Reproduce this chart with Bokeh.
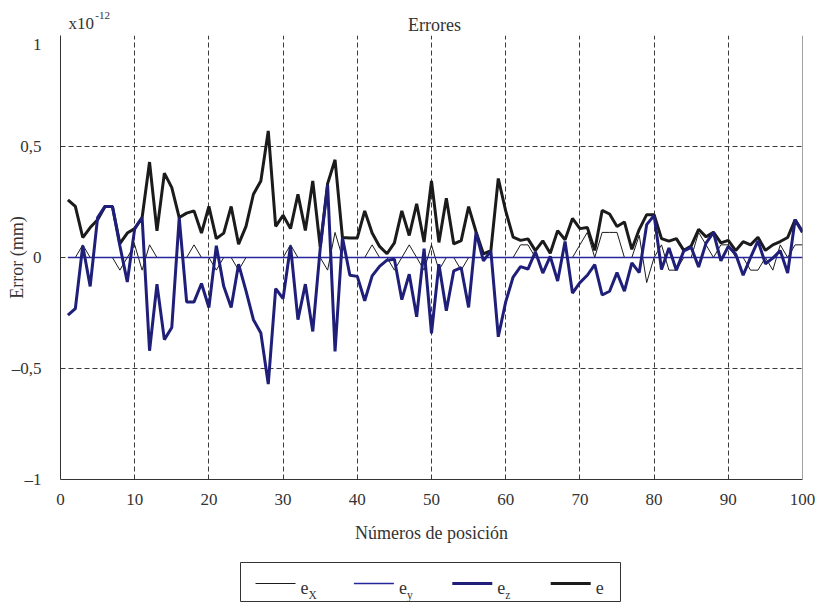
import numpy as np
from bokeh.plotting import figure
from bokeh.models import FixedTicker, Span, Range1d
from bokeh.layouts import column
from bokeh.embed import file_html
from bokeh.resources import INLINE
from bokeh.core.properties import value

# ---------------- data ----------------
positions = list(range(1, 101))

e_x = [0, 0, 0.057, 0, 0, 0, 0, -0.057, 0, 0.057,
       -0.057, 0.057, 0, 0, 0, 0, 0, 0.057, 0, 0,
       -0.057, 0, 0, -0.057, 0, 0, 0, 0, 0, 0,
       0.057, 0, 0, 0, 0, -0.057, 0.113, 0, 0, 0,
       0, 0.057, 0, 0, -0.057, 0, 0.057, 0, -0.057, 0.057,
       -0.057, 0, 0, -0.057, 0, 0, 0, 0, 0, 0,
       0, 0.057, 0.057, 0, 0, 0, 0, 0, 0, 0.057,
       0.113, 0, 0.113, 0.113, 0.113, 0, 0, 0.1, -0.113, 0,
       0.057, -0.057, -0.057, 0, 0, 0.113, 0.057, 0, 0.057, 0.057,
       0, 0, -0.057, -0.057, 0, -0.057, 0.057, 0, 0.057, 0.057]

e_y = [0.0] * 100

e_z = [-0.26, -0.23, 0.053, -0.13, 0.18, 0.23, 0.23, 0.053, -0.11, 0.13,
       0.18, -0.42, -0.12, -0.37, -0.315, 0.18, -0.2, -0.2, -0.117, -0.225,
       0.053, -0.13, -0.225, -0.03, -0.15, -0.28, -0.34, -0.57, -0.14, -0.185,
       0.053, -0.28, -0.12, -0.333, 0.04, 0.327, -0.423, 0.09, -0.08, -0.085,
       -0.195, -0.083, -0.04, -0.012, -0.008, -0.19, -0.075, -0.267, 0.04, -0.342,
       -0.03, -0.24, -0.06, -0.046, -0.225, 0.113, -0.015, 0.03, -0.357, -0.2,
       -0.088, -0.041, -0.052, 0.026, -0.07, 0.005, -0.106, 0.072, -0.16, -0.113,
       -0.08, -0.032, -0.169, -0.152, -0.068, -0.152, -0.024, -0.068, 0.148, 0.19,
       -0.054, 0.043, -0.057, 0.03, 0.046, -0.043, 0.065, 0.113, -0.015, 0.05,
       0.015, -0.08, 0.0, 0.075, -0.028, -0.003, 0.031, -0.07, 0.17, 0.113]

e_total = [0.26, 0.23, 0.09, 0.135, 0.17, 0.23, 0.23, 0.063, 0.11, 0.13,
           0.18, 0.43, 0.12, 0.38, 0.315, 0.18, 0.2, 0.21, 0.11, 0.23,
           0.085, 0.11, 0.23, 0.06, 0.14, 0.285, 0.345, 0.57, 0.14, 0.19,
           0.13, 0.285, 0.122, 0.345, 0.048, 0.333, 0.44, 0.09, 0.088, 0.088,
           0.21, 0.11, 0.05, 0.017, 0.066, 0.21, 0.099, 0.242, 0.07, 0.345,
           0.068, 0.267, 0.061, 0.076, 0.229, 0.116, 0.016, 0.031, 0.356, 0.21,
           0.092, 0.077, 0.084, 0.031, 0.075, 0.019, 0.121, 0.08, 0.176, 0.13,
           0.135, 0.032, 0.212, 0.196, 0.14, 0.16, 0.037, 0.127, 0.193, 0.193,
           0.085, 0.074, 0.085, 0.032, 0.052, 0.127, 0.093, 0.114, 0.066, 0.077,
           0.031, 0.071, 0.057, 0.091, 0.032, 0.057, 0.072, 0.09, 0.17, 0.117]

x_ticks = [0, 10, 20, 30, 40, 50, 60, 70, 80, 90, 100]
y_ticks = [-1, -0.5, 0, 0.5, 1]
y_tick_labels = {1: "1", 0.5: "0,5", 0: "0", -0.5: "\u20130,5", -1: "\u20131"}

title_text = "Errores"
scale_text = "x10"
scale_exp = "-12"
y_label = "Error (mm)"
x_label = "N\u00fameros de posici\u00f3n"

legend_base = ["e", "e", "e", "e"]
legend_sub = ["X", "y", "z", ""]

# ---------------- style ----------------
FONT = "Liberation Serif"
BLACK = "#1b1b1b"
NAVY = "#1f1f7a"
NAVY_THIN = "#25259c"
GRID = "#3a3a3a"
TXT = "#333333"
W = 824

# ---------------- header strip (title + scale factor) ----------------
hdr = figure(width=W, height=34, x_range=Range1d(0, 100), y_range=Range1d(0, 34),
             output_backend="svg", toolbar_location=None,
             min_border_left=0, min_border_right=0, min_border_top=0, min_border_bottom=0,
             x_axis_location=None, y_axis_location=None)
hdr.xgrid.visible = False
hdr.ygrid.visible = False
hdr.outline_line_color = None
hdr.text(x=[50.4], y=[10], text=[title_text], text_align="center",
         text_baseline="alphabetic", text_font=value(FONT),
         text_font_size="18px", text_color=TXT)
hdr.text(x=[1.08], y=[11], text=[scale_text], text_align="left",
         text_baseline="alphabetic", text_font=value(FONT),
         text_font_size="17px", text_color=TXT)
hdr.text(x=[4.7], y=[19], text=[scale_exp], text_align="left",
         text_baseline="alphabetic", text_font=value(FONT),
         text_font_size="11px", text_color=TXT)

# ---------------- main plot ----------------
p = figure(width=W, height=521,
           x_range=Range1d(0, 100), y_range=Range1d(-1, 1),
           output_backend="svg", toolbar_location=None,
           min_border_left=60, min_border_right=22,
           min_border_top=1, min_border_bottom=76)
p.outline_line_color = None
p.background_fill_color = "white"
p.border_fill_color = "white"

for ax in (p.xaxis[0], p.yaxis[0]):
    ax.major_tick_line_color = None
    ax.minor_tick_line_color = None
    ax.axis_line_color = "#333333"
    ax.axis_line_width = 1
    ax.major_label_text_font = FONT
    ax.major_label_text_font_size = "17px"
    ax.major_label_text_color = TXT
    ax.axis_label_text_font = FONT
    ax.axis_label_text_font_size = "18px"
    ax.axis_label_text_font_style = "normal"
    ax.axis_label_text_color = TXT

p.xaxis.ticker = FixedTicker(ticks=x_ticks)
p.yaxis.ticker = FixedTicker(ticks=y_ticks)
p.yaxis.major_label_overrides = y_tick_labels
p.xaxis.major_label_standoff = 8
p.yaxis.major_label_standoff = 13
p.yaxis.axis_label = y_label
p.yaxis.axis_label_standoff = -18
p.xaxis.axis_label = x_label
p.xaxis.axis_label_standoff = 15

p.xgrid.ticker = FixedTicker(ticks=x_ticks)
p.ygrid.ticker = FixedTicker(ticks=y_ticks)
p.grid.grid_line_color = GRID
p.grid.grid_line_dash = "5 3"
p.grid.grid_line_width = 1

p.add_layout(Span(location=100, dimension="height", line_color="#444444", line_width=1))

p.line(positions, e_x, line_color=BLACK, line_width=1)
p.line(positions, e_total, line_color=BLACK, line_width=3)
p.line(positions, e_y, line_color=NAVY_THIN, line_width=1.3)
p.line(positions, e_z, line_color=NAVY, line_width=3)

# ---------------- legend strip ----------------
leg = figure(width=W, height=47, x_range=Range1d(0, 742), y_range=Range1d(0, 47),
             output_backend="svg", toolbar_location=None,
             min_border_left=0, min_border_right=0, min_border_top=0, min_border_bottom=0,
             x_axis_location=None, y_axis_location=None)
leg.xgrid.visible = False
leg.ygrid.visible = False
leg.outline_line_color = None
leg.background_fill_color = "white"
leg.border_fill_color = "white"
leg.quad(left=[180], right=[560], bottom=[1], top=[40],
         fill_color=None, line_color="#333333", line_width=1)

styles = [(BLACK, 1), (NAVY_THIN, 1.3), (NAVY, 3), (BLACK, 3)]
step = 98.4
for i, (col, lw) in enumerate(styles):
    x0 = 195 + i * step
    leg.line([x0, x0 + 40], [19, 19], line_color=col, line_width=lw)
    leg.text(x=[x0 + 45], y=[15], text=[legend_base[i]],
             text_font=value(FONT), text_font_size="18px",
             text_baseline="alphabetic", text_color=TXT)
    if legend_sub[i]:
        leg.text(x=[x0 + 53], y=[8], text=[legend_sub[i]],
                 text_font=value(FONT), text_font_size="11.5px",
                 text_baseline="alphabetic", text_color=TXT)

layout = column(hdr, p, leg)
open("out.html", "w").write(file_html(layout, INLINE))
